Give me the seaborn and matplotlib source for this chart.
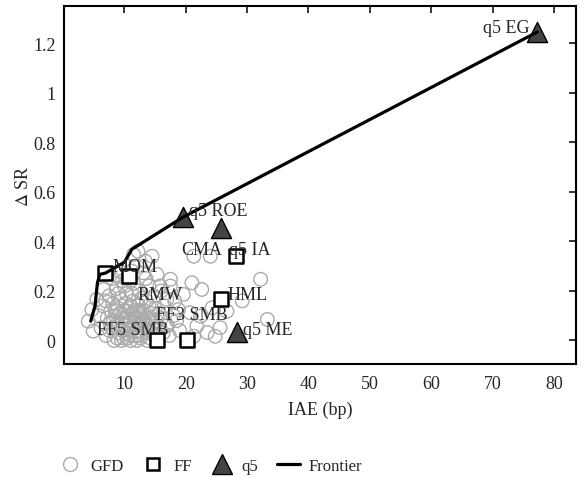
"""
Delta SR vs IAE scatter with frontier line
"""

import matplotlib
matplotlib.use('Agg')
import matplotlib.pyplot as plt
from matplotlib.lines import Line2D
import seaborn as sns
import pandas as pd

# GFD anomalies (IAE in bp, delta SR)
gfd_x = [4.1, 4.9, 4.7, 5.5, 6.6, 5.8, 6.2, 6.5, 7.0, 7.2,
         7.5, 7.8, 8.0, 8.1, 8.3, 8.5, 8.7, 8.9, 9.0, 9.2,
         9.3, 9.5, 9.6, 9.8, 9.9, 10.0, 10.2, 10.3, 10.4, 10.6,
         10.7, 10.8, 11.0, 11.1, 11.2, 11.3, 11.4, 11.5, 11.6, 11.8,
         11.9, 12.0, 12.1, 12.2, 12.3, 12.4, 12.5, 12.6, 12.7, 12.9,
         13.0, 13.1, 13.2, 13.4, 13.5, 13.6, 13.7, 13.9, 14.0, 14.1,
         14.3, 14.5, 14.6, 14.8, 15.0, 15.3, 15.4, 15.8, 16.0, 16.3,
         16.9, 17.0, 17.5, 17.5, 18.0, 18.8, 19.0, 19.6, 20.7, 21.0,
         21.3, 21.3, 21.8, 22.4, 22.6, 23.5, 24.0, 24.3, 24.8, 25.6,
         26.7, 29.2, 32.2, 33.3,
         7.6, 8.2, 8.8, 9.1, 9.4, 9.7, 10.1, 10.5, 10.9, 11.0,
         11.7, 12.0, 12.4, 12.8, 13.3, 13.8, 14.2, 14.4, 14.9, 15.6,
         16.5, 17.3, 18.2, 9.0, 10.0, 11.2, 8.0, 6.9, 7.3, 12.8,
         13.5, 10.5, 9.2, 12.0, 16.0, 11.5, 14.8, 12.3, 10.8, 9.5,
         8.6, 11.6, 13.0, 14.0, 7.7, 10.3, 12.5, 15.2, 16.8, 18.5]
gfd_y = [0.078, 0.038, 0.125, 0.166, 0.206, 0.10, 0.05, 0.14, 0.02, 0.09,
         0.18, 0.12, 0.05, 0.15, 0.00, 0.10, 0.21, 0.07, 0.13, 0.03,
         0.17, 0.09, 0.24, 0.01, 0.12, 0.06, 0.15, 0.19, 0.03, 0.10,
         0.08, 0.13, 0.00, 0.05, 0.28, 0.11, 0.16, 0.347, 0.07, 0.02,
         0.12, 0.09, 0.04, 0.36, 0.14, 0.20, 0.06, 0.01, 0.10, 0.08,
         0.03, 0.273, 0.12, 0.32, 0.05, 0.16, 0.00, 0.09, 0.22, 0.04,
         0.11, 0.34, 0.07, 0.02, 0.13, 0.267, 0.05, 0.22, 0.09, 0.03,
         0.166, 0.06, 0.22, 0.247, 0.10, 0.125, 0.04, 0.186, 0.112, 0.233,
         0.34, 0.017, 0.058, 0.098, 0.206, 0.032, 0.34, 0.132, 0.017, 0.052,
         0.118, 0.16, 0.247, 0.085,
         0.04, 0.08, 0.01, 0.06, 0.11, 0.04, 0.09, 0.01, 0.04, 0.14,
         0.10, 0.00, 0.07, 0.05, 0.08, 0.06, 0.01, 0.09, 0.04, 0.11,
         0.14, 0.02, 0.16, 0.19, 0.22, 0.19, 0.25, 0.16, 0.27, 0.17,
         0.25, 0.25, 0.28, 0.30, 0.20, 0.23, 0.18, 0.02, 0.02, 0.00,
         0.12, 0.05, 0.11, 0.14, 0.07, 0.12, 0.12, 0.08, 0.06, 0.08]

# Fama-French factors
ff_x = [6.9, 10.7, 15.3, 20.2, 25.8, 28.2]
ff_y = [0.272, 0.262, 0.0, 0.004, 0.166, 0.343]

# q5 factors
q5_x = [77.3, 19.5, 25.7, 28.3]
q5_y = [1.245, 0.497, 0.455, 0.033]

# frontier
front_x = [4.5, 5.2, 5.6, 6.0, 6.9, 10.0, 11.2, 19.5, 77.3]
front_y = [0.078, 0.139, 0.233, 0.267, 0.272, 0.316, 0.368, 0.497, 1.245]

# point labels
label_text = ['q5 EG', 'q5 ROE', 'CMA', 'q5 IA', 'MOM', 'RMW', 'HML',
              'FF3 SMB', 'FF5 SMB', 'q5 ME']
label_x = [76.0, 20.6, 19.3, 27.1, 8.1, 12.1, 26.8, 15.2, 5.6, 29.3]
label_y = [1.262, 0.523, 0.368, 0.368, 0.30, 0.186, 0.186, 0.105, 0.044, 0.044]
label_ha = ['right', 'left', 'left', 'left', 'left', 'left', 'left',
            'left', 'left', 'left']


def main():
    sns.set_style('white')
    plt.rcParams['font.family'] = ['Liberation Serif', 'DejaVu Serif']
    plt.rcParams['mathtext.fontset'] = 'stix'

    fig = plt.figure(figsize=(5.84, 4.89), dpi=100)
    ax = fig.add_axes([0.1096, 0.2535, 0.8766, 0.7322])

    gfd = pd.DataFrame({'IAE': gfd_x, 'SR': gfd_y})
    ff = pd.DataFrame({'IAE': ff_x, 'SR': ff_y})
    q5 = pd.DataFrame({'IAE': q5_x, 'SR': q5_y})
    front = pd.DataFrame({'IAE': front_x, 'SR': front_y})

    sns.scatterplot(ax=ax, data=gfd, x='IAE', y='SR', marker='o', s=95,
                    facecolors='none', edgecolor='#ababab', linewidth=1.0,
                    zorder=2)
    sns.scatterplot(ax=ax, data=ff, x='IAE', y='SR', marker='s', s=90,
                    color='white', edgecolor='black', linewidth=1.8, zorder=3)
    sns.scatterplot(ax=ax, data=q5, x='IAE', y='SR', marker='^', s=210,
                    color='#444444', edgecolor='black', linewidth=1.0,
                    zorder=3)
    sns.lineplot(ax=ax, data=front, x='IAE', y='SR', sort=False,
                 color='black', linewidth=2.3, zorder=4)

    for t, x, y, ha in zip(label_text, label_x, label_y, label_ha):
        ax.text(x, y, t, ha=ha, va='center', fontsize=13, zorder=5)

    ax.set_xlim(0.15, 83.6)
    ax.set_ylim(-0.095, 1.35)
    ax.set_xticks([10, 20, 30, 40, 50, 60, 70, 80])
    ax.set_yticks([0, 0.2, 0.4, 0.6, 0.8, 1.0, 1.2])
    ax.set_yticklabels(['0', '0.2', '0.4', '0.6', '0.8', '1', '1.2'])
    ax.tick_params(direction='in', length=5, width=1.3, top=True,
                   right=True, labelsize=13, pad=6)
    ax.tick_params(axis='x', pad=8)
    for sp in ax.spines.values():
        sp.set_linewidth(1.5)
        sp.set_color('black')
    ax.set_xlabel('IAE (bp)', fontsize=13, labelpad=6)
    ax.set_ylabel('$\\Delta$ SR', fontsize=13, labelpad=1)

    handles = [
        Line2D([], [], marker='o', linestyle='none', markersize=10,
               markerfacecolor='none', markeredgecolor='#ababab'),
        Line2D([], [], marker='s', linestyle='none', markersize=9,
               markerfacecolor='white', markeredgecolor='black',
               markeredgewidth=1.8),
        Line2D([], [], marker='^', linestyle='none', markersize=15,
               markerfacecolor='#444444', markeredgecolor='black'),
        Line2D([], [], color='black', linewidth=2.3),
    ]
    fig.legend(handles, ['GFD', 'FF', 'q5', 'Frontier'], loc='center',
               bbox_to_anchor=(0.36, 0.045), ncol=4, frameon=False,
               fontsize=12, handlelength=1.4, handletextpad=0.5,
               columnspacing=1.1)

    fig.savefig('out.png', dpi=100)


if __name__ == '__main__':
    main()
